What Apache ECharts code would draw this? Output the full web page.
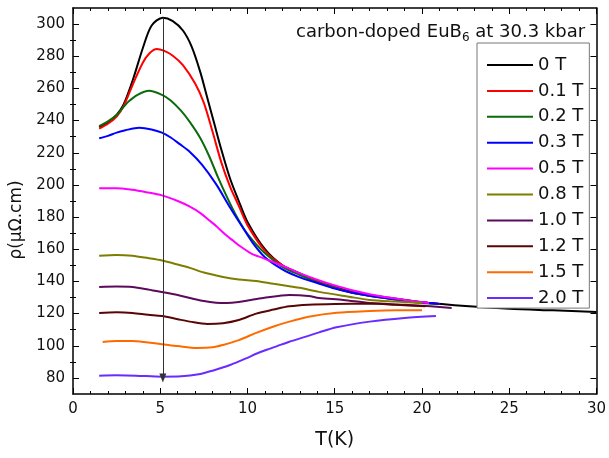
<!DOCTYPE html>
<html>
<head>
<meta charset="utf-8">
<script src="https://cdn.jsdelivr.net/npm/echarts@6/dist/echarts.min.js"></script>
<style>
  html, body { margin: 0; padding: 0; background: #fff; }
  #container { width: 609px; height: 458px; }
</style>
</head>
<body>
<div id="container"></div>
<script>
// field labels
var fields = ['0 T', '0.1 T', '0.2 T', '0.3 T', '0.5 T', '0.8 T', '1.0 T', '1.2 T', '1.5 T', '2.0 T'];

// T (K) / rho (uOhm.cm) per field
var temp0T  = [1.5, 2, 2.5, 2.9, 3.45, 4, 4.5, 5.15, 5.7, 6.3, 6.8, 7.3, 7.7, 8.1, 8.5, 9, 9.5, 10, 11, 12, 13, 14, 15, 16, 18, 20, 22.7, 25, 27.5, 30];
var rho0T   = [236, 239, 243.5, 250, 266, 285, 299, 304, 302, 296, 286, 270, 254, 238, 222, 204, 190, 177, 160, 150, 145, 140, 136.5, 133.5, 130, 127, 124.5, 123, 122, 121];
var temp01T = [1.5, 2, 2.5, 2.9, 3.45, 4, 4.4, 4.8, 5.2, 5.7, 6.3, 7, 7.5, 8, 8.5, 9, 9.5, 10, 11, 12, 13, 14, 15, 16, 18, 20, 21];
var rho01T  = [235, 238, 242.5, 249, 263, 276, 282, 284.5, 283.5, 280.5, 274.5, 263, 251, 233, 214, 199, 187, 175, 159, 150, 144.5, 140, 136, 133, 129.5, 127, 126];
var temp02T = [1.5, 2, 2.5, 2.9, 3.2, 3.7, 4.35, 5.1, 5.6, 6.2, 6.7, 7.3, 7.8, 8.3, 8.8, 9.3, 9.9, 10.5, 11, 12, 13, 14, 15, 16, 18, 20, 21];
var rho02T  = [236.5, 239.5, 243.5, 248.5, 252, 256, 258.5, 256, 252.5, 246, 239, 229, 218, 205, 193, 182, 171, 163, 157.5, 149, 144, 139.5, 136, 133, 129.5, 126.5, 126];
var temp03T = [1.5, 2, 2.5, 3, 3.8, 4.5, 5.1, 5.6, 6.1, 6.7, 7.4, 8.2, 9, 9.7, 10.3, 11, 12, 13, 14, 15, 16, 18, 20, 21];
var rho03T  = [229, 230.5, 232.5, 234, 235.5, 234.5, 232.5, 229.5, 225.5, 220.5, 212.5, 200.5, 186, 174, 164, 155, 147.5, 142.5, 139, 135.5, 133, 129.5, 127, 126];
var temp05T = [1.5, 2.5, 3.4, 4.2, 5.1, 6, 6.7, 7.3, 7.8, 8.2, 8.8, 9.1, 9.5, 10.2, 10.9, 12.4, 13, 15, 17, 19, 20.4];
var rho05T  = [198, 198, 197, 195.5, 193.5, 190, 186.5, 182.5, 178, 174.5, 168.5, 166, 162.5, 157.5, 154.5, 148, 145, 137.5, 132, 128.5, 126.6];
var temp08T = [1.5, 2.5, 3.4, 4.3, 5.1, 6, 6.7, 7.5, 8.6, 9.5, 10.5, 11.5, 12.4, 13, 14.1, 15.8, 17, 18.5, 20];
var rho08T  = [156, 156.5, 156, 154.5, 153, 150.5, 148.4, 145.5, 142.8, 141.2, 140.3, 138.5, 137, 136, 133.5, 130.5, 128.5, 127.5, 126.6];
var temp10T = [1.5, 2.5, 3.4, 4.3, 5.1, 6, 6.7, 7.5, 8.2, 8.8, 9.5, 10.2, 10.9, 12.4, 13.5, 14.1, 15.5, 17, 19, 20.5, 21.7];
var rho10T  = [136.5, 136.8, 136.5, 135, 133.4, 131.5, 129.7, 127.8, 126.8, 126.6, 127.2, 128.5, 129.7, 131.6, 131, 129.7, 128.5, 126.6, 125.5, 124.5, 123.5];
var temp12T = [1.5, 2.5, 3.4, 4.3, 5.1, 6, 6.7, 7.7, 8.6, 9.5, 10.5, 11.5, 12.4, 13.5, 15, 17, 18.5, 20.2];
var rho12T  = [120.4, 120.8, 120.4, 119.3, 118.5, 116.5, 115, 113.5, 114, 116, 120, 122.5, 124.5, 125.5, 126, 126.2, 125.5, 124.5];
var temp15T = [1.7, 2.5, 3.4, 4.3, 5.1, 6, 7.1, 8, 8.6, 9.5, 10.5, 11.5, 12.4, 13.5, 15.1, 17, 18.5, 20];
var rho15T  = [102.4, 103, 103, 102, 101, 99.8, 98.6, 99, 100.5, 103.5, 108, 112, 115, 118, 120.5, 121.6, 122, 122];
var temp20T = [1.5, 2.5, 3.6, 5.1, 6.2, 7.3, 8, 9, 10, 10.5, 11.1, 11.7, 12.4, 13.3, 14.1, 15.1, 17, 19, 20.8];
var rho20T  = [81.4, 81.6, 81.4, 80.8, 81, 82.5, 84.5, 88, 92.5, 95, 97.5, 99.8, 102.5, 105.5, 108.3, 111.5, 115, 117.3, 118.5];

var temps = [temp0T, temp01T, temp02T, temp03T, temp05T, temp08T, temp10T, temp12T, temp15T, temp20T];
var rhos  = [rho0T, rho01T, rho02T, rho03T, rho05T, rho08T, rho10T, rho12T, rho15T, rho20T];

// axis ticks
var yMajorTicks = [80, 100, 120, 140, 160, 180, 200, 220, 240, 260, 280, 300];
var yMinorTicks = [90, 110, 130, 150, 170, 190, 210, 230, 250, 270, 290];

// arrow marking T of the peak
var arrowT = 5.15, arrowTop = 304, arrowBottom = 80;

var colors = ['#000000', '#ff0000', '#0b6b0b', '#0000ff', '#ff00ff', '#7d7d00', '#5c0a5c', '#5a0505', '#ff6a00', '#6a2bff'];
var font = 'DejaVu Sans';

var myChart = echarts.init(document.getElementById('container'));

var series = fields.map(function (name, i) {
    var s = {
        name: name,
        type: 'line',
        data: temps[i].map(function (t, k) { return [t, rhos[i][k]]; }),
        symbol: 'none',
        smooth: 0.3,
        lineStyle: { color: colors[i], width: 2 },
        itemStyle: { color: colors[i] },
        z: 3
    };
    if (i === 0) {
        s.markLine = {
            silent: true,
            symbol: ['none', 'triangle'],
            symbolSize: [7, 9],
            label: { show: false },
            lineStyle: { color: '#333', width: 1, type: 'solid' },
            data: [[{ coord: [arrowT, arrowTop] }, { coord: [arrowT, arrowBottom] }]]
        };
    }
    return s;
});

function boxAxis(pos, min, max, extra) {
    var a = {
        type: 'value',
        position: pos,
        min: min,
        max: max,
        axisLine: { show: true, onZero: false, lineStyle: { color: '#000', width: 1.5 } },
        splitLine: { show: false },
        axisLabel: { show: false },
        axisTick: { show: true, inside: true, length: 6, lineStyle: { color: '#000', width: 1 } }
    };
    for (var k in extra) a[k] = extra[k];
    return a;
}

var option = {
    animation: false,
    backgroundColor: '#fff',
    title: {
        text: '{a|carbon-doped EuB}{b|6}{a| at 30.3 kbar}',
        left: 291,
        top: 18,
        textStyle: {
            fontWeight: 'normal',
            rich: {
                a: { fontFamily: font, fontSize: 18, fontWeight: 'normal', color: '#111', verticalAlign: 'top' },
                b: { fontFamily: font, fontSize: 12, fontWeight: 'normal', color: '#111', verticalAlign: 'top', padding: [9, 0, 0, 0] }
            }
        }
    },
    legend: {
        data: fields,
        orient: 'vertical',
        left: 477,
        top: 43,
        padding: [13, 6, 1, 10],
        icon: 'rect',
        itemWidth: 46,
        itemHeight: 2,
        itemGap: 7.9,
        backgroundColor: '#fff',
        borderColor: '#777',
        borderWidth: 1,
        borderRadius: 0,
        textStyle: { fontFamily: font, fontSize: 18, color: '#111' },
        z: 10
    },
    grid: { left: 73, right: 11, top: 8, bottom: 64 },
    xAxis: [
        boxAxis('bottom', 0, 30, {
            interval: 5,
            name: 'T(K)',
            nameLocation: 'middle',
            nameGap: 37,
            nameTextStyle: { fontFamily: font, fontSize: 19, color: '#111' },
            axisLabel: { show: true, margin: 8, fontFamily: font, fontSize: 15, color: '#111' },
            minorTick: { show: true, splitNumber: 5, length: 3, lineStyle: { color: '#000' } }
        }),
        boxAxis('top', 0, 30, {
            interval: 5,
            minorTick: { show: true, splitNumber: 5, length: 3, lineStyle: { color: '#000' } }
        })
    ],
    yAxis: [
        boxAxis('left', 70, 310, {
            name: 'ρ(μΩ.cm)',
            nameLocation: 'middle',
            nameGap: 37,
            nameTextStyle: { fontFamily: font, fontSize: 17, color: '#111', padding: [0, 38, 0, 0] },
            axisLabel: { show: true, margin: 8, fontFamily: font, fontSize: 15, color: '#111', customValues: yMajorTicks },
            axisTick: { show: true, inside: true, length: 6, customValues: yMajorTicks, lineStyle: { color: '#000' } }
        }),
        boxAxis('right', 70, 310, {
            axisTick: { show: true, inside: true, length: 6, customValues: yMajorTicks, lineStyle: { color: '#000' } }
        }),
        boxAxis('left', 70, 310, {
            axisLine: { show: false },
            axisTick: { show: true, inside: true, length: 3, customValues: yMinorTicks, lineStyle: { color: '#000' } }
        }),
        boxAxis('right', 70, 310, {
            axisLine: { show: false },
            axisTick: { show: true, inside: true, length: 3, customValues: yMinorTicks, lineStyle: { color: '#000' } }
        })
    ],
    series: series
};

myChart.setOption(option, true);
window.onresize = function () {
    myChart.resize();
};
</script>
</body>
</html>
